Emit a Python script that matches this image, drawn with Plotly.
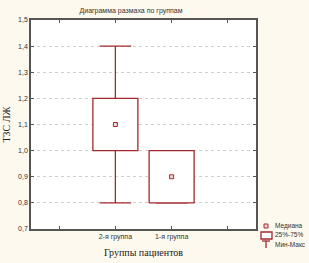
import plotly.graph_objects as go

groups = ["2-я группа", "1-я группа"]
positions = [0, 1]
q1 = [1.0, 0.8]
q3 = [1.2, 1.0]
median = [1.1, 0.9]
vmin = [0.8, 0.8]
vmax = [1.4, 1.0]

RED = "#a3282e"
W, H = 309, 263
L, R, T, B = 31, 53, 20, 34
PW, PH = W - L - R, H - T - B

BOX_HALF = 0.40
CAP_HALF = 0.28

fig = go.Figure()

for i, c in enumerate(positions):
    fig.add_trace(go.Scatter(x=[c, c, None, c, c], y=[q3[i], vmax[i], None, q1[i], vmin[i]],
                             mode="lines", line=dict(color=RED, width=1.3),
                             showlegend=False, hoverinfo="skip"))
    fig.add_trace(go.Scatter(x=[c - CAP_HALF, c + CAP_HALF, None, c - CAP_HALF, c + CAP_HALF],
                             y=[vmax[i], vmax[i], None, vmin[i], vmin[i]],
                             mode="lines", line=dict(color=RED, width=1.3),
                             showlegend=False, hoverinfo="skip"))
    fig.add_trace(go.Scatter(x=[c - BOX_HALF, c + BOX_HALF, c + BOX_HALF, c - BOX_HALF, c - BOX_HALF],
                             y=[q1[i], q1[i], q3[i], q3[i], q1[i]],
                             mode="lines", fill="toself", fillcolor="white",
                             line=dict(color=RED, width=1.3),
                             showlegend=False, hoverinfo="skip"))

fig.add_trace(go.Scatter(x=positions, y=median, mode="markers",
                         marker=dict(symbol="square", size=4, color="#f3d6d6",
                                     line=dict(color=RED, width=1)),
                         showlegend=False))

def px(x):
    return (x - L) / PW

def py(y):
    return (H - B - y) / PH

shapes = []
shapes.append(dict(type="rect", xref="paper", yref="paper",
                   x0=px(264), x1=px(268), y0=py(228), y1=py(224),
                   line=dict(color=RED, width=1), fillcolor="#f3d6d6"))
shapes.append(dict(type="rect", xref="paper", yref="paper",
                   x0=px(261), x1=px(272), y0=py(239), y1=py(232),
                   line=dict(color=RED, width=1.3), fillcolor="white"))
shapes.append(dict(type="line", xref="paper", yref="paper",
                   x0=px(262), x1=px(270), y0=py(241), y1=py(241),
                   line=dict(color=RED, width=1.3)))
shapes.append(dict(type="line", xref="paper", yref="paper",
                   x0=px(266), x1=px(266), y0=py(241), y1=py(248),
                   line=dict(color=RED, width=1.3)))

ann = []
for txt, yy in [("Медиана", 226), ("25%-75%", 234.5), ("Мин-Макс", 244)]:
    ann.append(dict(text=txt, xref="paper", yref="paper", x=px(275), y=py(yy),
                    xanchor="left", yanchor="middle", showarrow=False,
                    xshift=-2,
                    font=dict(family="Liberation Sans", size=6.5, color="#333")))

fig.update_layout(
    width=W, height=H,
    margin=dict(l=L, r=R, t=T, b=B),
    paper_bgcolor="#fdf9ee",
    plot_bgcolor="white",
    showlegend=False,
    shapes=shapes,
    annotations=ann,
    title=dict(text="Диаграмма размаха по группам", x=131 / W, xanchor="center",
               y=1 - 11 / H, yanchor="middle",
               font=dict(family="Liberation Sans", size=7, color="#333")),
    font=dict(family="Liberation Sans", size=7, color="#333"),
    separators=",.",
)

fig.update_xaxes(range=[-1.5, 2.5], tickvals=[-1, 0, 1, 2],
                 ticktext=[""] + groups + [""],
                 showgrid=False, zeroline=False, automargin=False,
                 showline=True, linecolor="#555", linewidth=1.5, mirror="allticks",
                 ticks="inside", ticklen=3, tickcolor="#555",
                 tickfont=dict(family="Liberation Sans", size=7, color="#333"),
                 title=dict(text="Группы пациентов", standoff=9,
                            font=dict(family="Liberation Serif", size=10, color="#222")))

fig.update_yaxes(range=[0.7, 1.5], dtick=0.1, tick0=0.7, tickformat=".1f",
                 showgrid=True, gridcolor="#cfcfcf", griddash="dot", gridwidth=1,
                 zeroline=False, automargin=False,
                 showline=True, linecolor="#555", linewidth=1.5, mirror="allticks",
                 ticks="inside", ticklen=3, tickcolor="#555",
                 tickfont=dict(family="Liberation Sans", size=7, color="#333"),
                 title=dict(text="ТЗС ЛЖ", standoff=6,
                            font=dict(family="Liberation Serif", size=10, color="#222")))

fig.write_html("out.html")
